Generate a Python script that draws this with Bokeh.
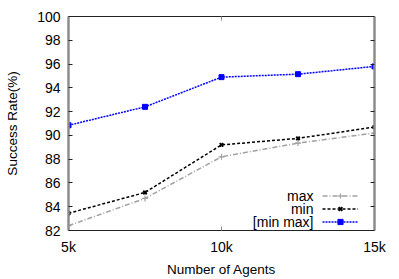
from bokeh.plotting import figure
from bokeh.models import (Range1d, FixedTicker, LinearAxis, Legend, LegendItem, Label,
                          CustomLabelingPolicy)
from bokeh.core.properties import value
from bokeh.embed import file_html
from bokeh.resources import INLINE

# ---- data ----
x_agents = [5000, 7500, 10000, 12500, 15000]
max_rate = [82.4, 84.7, 88.2, 89.35, 90.2]
min_rate = [83.45, 85.2, 89.2, 89.75, 90.7]
minmax_rate = [90.85, 92.4, 94.9, 95.15, 95.8]
series_names = ["max", "min", "[min max]"]
x_ticks = [5000, 10000, 15000]
x_tick_labels = ["5k", "10k", "15k"]
y_ticks = [82, 84, 86, 88, 90, 92, 94, 96, 98, 100]

FONT = "Liberation Sans"
GRAY_BORDER = "#8c8c8c"

p = figure(width=399, height=279, output_backend="svg", toolbar_location=None,
           x_range=Range1d(5000, 15000), y_range=Range1d(82, 100),
           min_border_left=68, min_border_right=25, min_border_top=16,
           min_border_bottom=45, x_axis_label="Number of Agents",
           y_axis_label="Success Rate(%)")
p.outline_line_color = None
p.grid.visible = False
p.background_fill_color = "white"
p.border_fill_color = "white"

# bottom axis
xa = p.xaxis[0]
xa.ticker = FixedTicker(ticks=x_ticks)
xa.major_label_overrides = {t: l for t, l in zip(x_ticks, x_tick_labels)}
xa.minor_tick_line_color = None
xa.major_tick_in = 4
xa.major_tick_out = 0
xa.major_tick_line_color = GRAY_BORDER
xa.axis_line_color = "#222222"
xa.axis_line_width = 1
xa.major_label_text_font = FONT
xa.major_label_text_font_size = "14px"
xa.major_label_text_color = "black"
xa.major_label_standoff = 8
xa.axis_label_text_font = FONT
xa.axis_label_text_font_size = "13.5px"
xa.axis_label_text_font_style = "normal"
xa.axis_label_text_color = "black"
xa.axis_label_standoff = 4

# left axis
ya = p.yaxis[0]
ya.ticker = FixedTicker(ticks=y_ticks)
ya.minor_tick_line_color = None
ya.major_tick_in = 4
ya.major_tick_out = 0
ya.major_tick_line_color = "#222222"
ya.axis_line_color = GRAY_BORDER
ya.axis_line_width = 2.5
ya.major_label_text_font = FONT
ya.major_label_text_font_size = "14px"
ya.major_label_text_color = "black"
ya.major_label_standoff = 8
ya.axis_label_text_font = FONT
ya.axis_label_text_font_size = "13.5px"
ya.axis_label_text_font_style = "normal"
ya.axis_label_text_color = "black"
ya.axis_label_standoff = 14

no_labels = CustomLabelingPolicy(code="""
for (const i of Array.from(indices)) { indices.unset(i) }
return indices
""")

# right axis (mirror border)
ra = LinearAxis(ticker=FixedTicker(ticks=y_ticks), major_tick_in=4, major_tick_out=0,
                minor_tick_line_color=None, major_tick_line_color="#222222",
                axis_line_color=GRAY_BORDER, axis_line_width=2.5,
                major_label_policy=no_labels, major_label_standoff=0)
p.add_layout(ra, "right")

# top axis (mirror border)
ta = LinearAxis(ticker=FixedTicker(ticks=[10000]), major_tick_in=4, major_tick_out=0,
                minor_tick_line_color=None, major_tick_line_color=GRAY_BORDER,
                axis_line_color="#222222", axis_line_width=1,
                major_label_policy=no_labels, major_label_standoff=0)
p.add_layout(ta, "above")

# series
l_max = p.line(x_agents, max_rate, line_color="#a0a0a0", line_width=1.5, line_dash="5 2 1 2")
s_max = p.scatter(x_agents, max_rate, marker="cross", size=6, line_color="#a0a0a0", line_width=1.2)

l_min = p.line(x_agents, min_rate, line_color="black", line_width=1.5, line_dash="3 2")
s_min = p.scatter(x_agents, min_rate, marker="x", size=5, line_color="black", line_width=2)

l_mm = p.line(x_agents, minmax_rate, line_color="#0000ff", line_width=1.5, line_dash="2 1")
s_mm = p.scatter(x_agents, minmax_rate, marker="square", size=5, line_color="#0000ff",
                 fill_color="#0000ff")

legend = Legend(items=[
    LegendItem(label=value(" "), renderers=[l_max, s_max]),
    LegendItem(label=value(" "), renderers=[l_min, s_min]),
    LegendItem(label=value(" "), renderers=[l_mm, s_mm]),
], location=(254, 2.5), glyph_width=36, glyph_height=13, label_height=13,
   label_width=0, label_standoff=0, spacing=0, padding=0, margin=0,
   label_text_font_size="8px", border_line_color=None, background_fill_alpha=0)
p.add_layout(legend)

for name, yy in zip(series_names, [35, 22, 9]):
    p.add_layout(Label(x=245, y=yy, x_units="screen", y_units="screen", text=name,
                       text_align="right", text_baseline="middle",
                       text_font=FONT, text_font_size="14px", text_color="black"))

open("out.html", "w").write(file_html(p, INLINE))
